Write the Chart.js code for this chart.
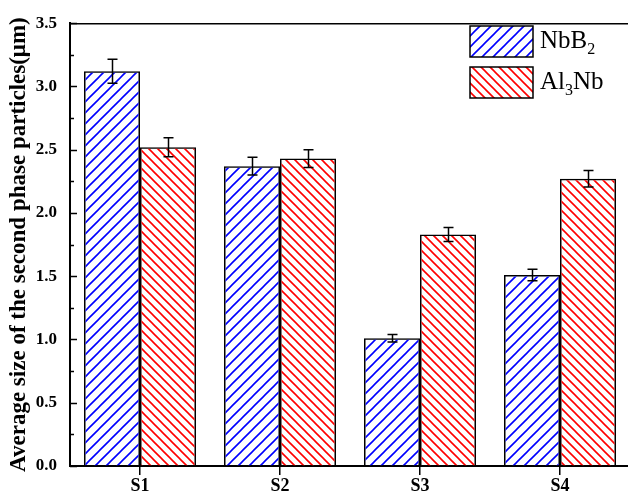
<!DOCTYPE html>
<html><head><meta charset="utf-8">
<script src="https://cdn.jsdelivr.net/npm/chart.js@4/dist/chart.umd.min.js"></script>
<style>html,body{margin:0;padding:0;overflow:hidden;background:#fff;width:628px;height:497px}canvas{display:block}</style>
</head><body>
<canvas id="c" width="630" height="497"></canvas>
<script>
const categories = ['S1', 'S2', 'S3', 'S4'];
const seriesNames = ['NbB2', 'Al3Nb'];
const nbb2Values = [3.12, 2.37, 1.01, 1.51];
const nbb2Errors = [0.095, 0.07, 0.03, 0.045];
const al3nbValues = [2.52, 2.43, 1.83, 2.27];
const al3nbErrors = [0.075, 0.07, 0.055, 0.065];
const yAxisTitle = 'Average size of the second phase particles(\u03bcm)';
const yMin = 0, yMax = 3.5, yStep = 0.5, yMinorStep = 0.25;

const SERIF = '"Liberation Serif", "Times New Roman", serif';

function hatch(color, size, dir) {
  const c = document.createElement('canvas');
  c.width = size; c.height = size;
  const g = c.getContext('2d');
  g.strokeStyle = color; g.lineWidth = 1.6;
  g.beginPath();
  if (dir > 0) {
    g.moveTo(0, size); g.lineTo(size, 0);
    g.moveTo(-size, size); g.lineTo(size, -size);
    g.moveTo(0, 2 * size); g.lineTo(2 * size, 0);
  } else {
    g.moveTo(0, 0); g.lineTo(size, size);
    g.moveTo(-size, 0); g.lineTo(size, 2 * size);
    g.moveTo(0, -size); g.lineTo(2 * size, size);
  }
  g.stroke();
  return g.createPattern(c, 'repeat');
}
const bluePattern = hatch('#0000ff', 11, 1);
const redPattern = hatch('#ff0000', 9, -1);
const errorArrays = [nbb2Errors, al3nbErrors];

const axesPlugin = {
  id: 'axesExtra',
  afterDraw(chart) {
    const ctx = chart.ctx, a = chart.chartArea, y = chart.scales.y;
    ctx.save();
    ctx.strokeStyle = '#000';
    ctx.lineWidth = 1.5;
    ctx.beginPath();
    for (let v = yMin; v <= yMax + 1e-9; v += yMinorStep) {
      const py = Math.round(y.getPixelForValue(v)) + 0.5;
      const major = Math.abs(v / yStep - Math.round(v / yStep)) < 1e-6;
      ctx.moveTo(a.left, py); ctx.lineTo(a.left + (major ? 7 : 4), py);
    }
    ctx.stroke();
    ctx.lineWidth = 1.5;
    ctx.beginPath();
    ctx.moveTo(a.left, a.top + 0.5); ctx.lineTo(a.right, a.top + 0.5);
    ctx.moveTo(a.right - 0.5, a.top); ctx.lineTo(a.right - 0.5, a.bottom);
    ctx.stroke();
    ctx.restore();
  }
};

const errorPlugin = {
  id: 'errorBars',
  afterDatasetsDraw(chart) {
    const ctx = chart.ctx, y = chart.scales.y;
    ctx.save();
    ctx.strokeStyle = '#000';
    ctx.lineWidth = 1.5;
    chart.data.datasets.forEach((ds, di) => {
      const meta = chart.getDatasetMeta(di);
      meta.data.forEach((bar, i) => {
        const v = ds.data[i], e = errorArrays[di][i];
        const x = Math.round(bar.x) + 0.5;
        const yt = y.getPixelForValue(v + e), yb = y.getPixelForValue(v - e);
        ctx.beginPath();
        ctx.moveTo(x, yt); ctx.lineTo(x, yb);
        ctx.moveTo(x - 5, yt); ctx.lineTo(x + 5, yt);
        ctx.moveTo(x - 5, yb); ctx.lineTo(x + 5, yb);
        ctx.stroke();
      });
    });
    ctx.restore();
  }
};

const legendPlugin = {
  id: 'subLegend',
  afterDraw(chart) {
    const ctx = chart.ctx;
    const x0 = 470, y0 = 26, bw = 63, bh = 31, gap = 10;
    ctx.save();
    chart.data.datasets.forEach((ds, i) => {
      const by = y0 + i * (bh + gap);
      ctx.fillStyle = '#fff';
      ctx.fillRect(x0, by, bw, bh);
      ctx.fillStyle = ds.backgroundColor;
      ctx.fillRect(x0, by, bw, bh);
      ctx.strokeStyle = '#000'; ctx.lineWidth = 1.5;
      ctx.strokeRect(x0, by, bw, bh);
      let tx = x0 + bw + 7;
      const base = by + 22;
      ctx.fillStyle = '#000';
      ctx.textBaseline = 'alphabetic';
      ctx.textAlign = 'left';
      const parts = ds.label.match(/\D+|\d+/g);
      parts.forEach(p => {
        if (/^\d+$/.test(p)) {
          ctx.font = '16px ' + SERIF;
          ctx.fillText(p, tx, base + 6);
        } else {
          ctx.font = '25px ' + SERIF;
          ctx.fillText(p, tx, base);
        }
        tx += ctx.measureText(p).width;
      });
    });
    ctx.restore();
  }
};

new Chart(document.getElementById('c'), {
  type: 'bar',
  data: {
    labels: categories,
    datasets: [
      { label: seriesNames[0], data: nbb2Values, backgroundColor: bluePattern, borderColor: '#000', borderWidth: 1.5, borderSkipped: 'bottom', barPercentage: 1, categoryPercentage: 0.8 },
      { label: seriesNames[1], data: al3nbValues, backgroundColor: redPattern, borderColor: '#000', borderWidth: 1.5, borderSkipped: 'bottom', barPercentage: 1, categoryPercentage: 0.8 }
    ]
  },
  options: {
    responsive: false,
    animation: false,
    events: [],
    layout: { padding: { top: 16, right: 0, left: 0, bottom: 0 } },
    plugins: { legend: { display: false }, tooltip: { enabled: false } },
    scales: {
      x: {
        grid: { display: true, drawOnChartArea: false, drawTicks: true, tickLength: 9, offset: false, color: '#000', lineWidth: 1.5 },
        border: { display: true, color: '#000', width: 2 },
        ticks: { color: '#000', font: { family: SERIF, size: 18, weight: 'bold' }, padding: 1 },
        afterFit(s) { s.height = 31; }
      },
      y: {
        min: yMin, max: yMax,
        grid: { display: true, drawOnChartArea: false, drawTicks: false },
        border: { display: true, color: '#000', width: 2 },
        ticks: { stepSize: yStep, color: '#000', padding: 13, font: { family: SERIF, size: 17, weight: 'bold' }, callback: v => Number(v).toFixed(1) },
        title: { display: true, text: yAxisTitle, color: '#000', font: { family: SERIF, size: 23, weight: 'bold' }, padding: { top: 5, bottom: 0 } },
        afterFit(s) { s.width = 70; }
      }
    }
  },
  plugins: [axesPlugin, errorPlugin, legendPlugin]
});
</script>
</body></html>
